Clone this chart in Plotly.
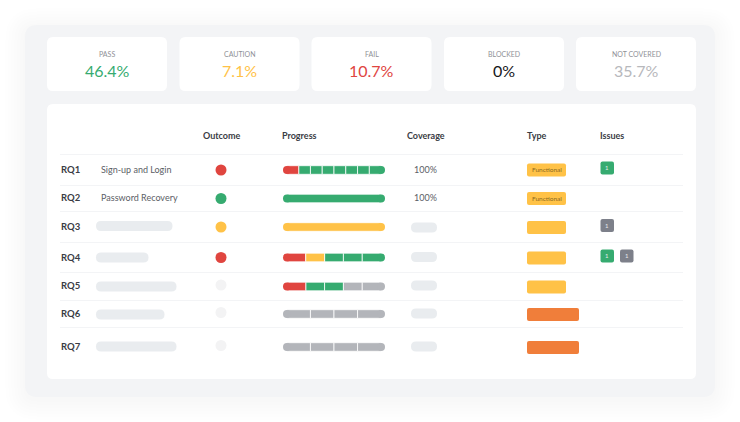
"""Rebuild the requirements coverage dashboard as a single Plotly figure."""

from __future__ import annotations

import plotly.graph_objects as go

WIDTH = 740
HEIGHT = 422

# data
STAT_LABELS = ["PASS", "CAUTION", "FAIL", "BLOCKED", "NOT COVERED"]
STAT_VALUES = [46.4, 7.1, 10.7, 0, 35.7]
STAT_COLORS = ["#36AB70", "#FFC247", "#E0453F", "#16171A", "#B7B8BC"]

HEADERS = ["Outcome", "Progress", "Coverage", "Type", "Issues"]
ROW_LABELS = ["RQ1", "RQ2", "RQ3", "RQ4", "RQ5", "RQ6", "RQ7"]
ROW_NAMES = ["Sign-up and Login", "Password Recovery", None, None, None, None, None]
OUTCOMES = ["fail", "pass", "caution", "fail", "none", "none", "none"]
COVERAGE = ["100%", "100%", None, None, None, None, None]
TYPE_LABELS = ["Functional", "Functional", None, None, None, None, None]
TYPE_KINDS = ["yellow", "yellow", "yellow", "yellow", "yellow", "orange", "orange"]
ISSUES = [["pass"], [], ["none"], ["pass", "none"], [], [], []]
PROGRESS = [
	["fail", "pass", "pass", "pass", "pass", "pass", "pass", "pass"],
	["pass"],
	["caution"],
	["fail", "caution", "pass", "pass", "pass"],
	["fail", "pass", "pass", "none", "none"],
	["none", "none", "none", "none"],
	["none", "none", "none", "none"],
]

# layout, in page pixels
CARD_LEFTS = [47, 179.5, 311.5, 444, 576]
CARD_WIDTH = 120
HEADER_LEFTS = [203, 282, 406.5, 527, 600]
ROW_TEXT_Y = [169.5, 197.5, 226.5, 257, 285.5, 313.5, 346]
DOT_Y = [170, 198.5, 227, 257.5, 285, 312.5, 345.5]
BAR_Y = [170, 198.5, 227, 257.5, 286.5, 314, 347]
NAME_PILL_Y = [None, None, 226, 257.5, 286.5, 314.5, 346.5]
NAME_PILL_RIGHT = [None, None, 172.5, 148.5, 176.5, 164.5, 176.5]
COVER_PILL_Y = [None, None, 227.5, 257, 285.5, 313.5, 346.5]
TYPE_Y = [170, 198.5, 227.5, 258, 287, 314.5, 347.5]
ISSUE_Y = [168, None, 225.5, 256, None, None, None]
RULE_Y = [154.5, 185.5, 211.5, 242.5, 272.5, 300.5, 327.5]
BAR_LEFT = 283
BAR_RIGHT = 385
BAR_HEIGHT = 8.6

STATUS_COLORS = {
	"pass": "#36AB70",
	"fail": "#E0453F",
	"caution": "#FFC247",
	"none": "#B3B5BA",
}
DOT_COLORS = {**STATUS_COLORS, "none": "#F3F3F4"}
BADGE_COLORS = {"pass": "#36AB70", "none": "#7D808A"}
TYPE_COLORS = {"yellow": "#FFC247", "orange": "#F07E3A"}
PANEL_COLOR = "#F3F4F6"
PILL_COLOR = "#E9ECEF"
FONT = "Lato, 'Open Sans', sans-serif"


def rounded_box(x0, y0, x1, y1, radius, color, opacity=1.0):
	path = (
		f"M{x0 + radius},{y0} L{x1 - radius},{y0} Q{x1},{y0} {x1},{y0 + radius} "
		f"L{x1},{y1 - radius} Q{x1},{y1} {x1 - radius},{y1} "
		f"L{x0 + radius},{y1} Q{x0},{y1} {x0},{y1 - radius} "
		f"L{x0},{y0 + radius} Q{x0},{y0} {x0 + radius},{y0} Z"
	)
	return dict(
		type="path",
		path=path,
		xref="x",
		yref="y",
		fillcolor=color,
		opacity=opacity,
		line=dict(width=0),
		layer="below",
	)


def label(x, y, text, size, color, anchor="center", weight=400):
	return dict(
		x=x,
		y=y,
		xref="x",
		yref="y",
		text=text,
		showarrow=False,
		xanchor=anchor,
		yanchor="middle",
		borderpad=0,
		borderwidth=0,
		font=dict(family=FONT, size=size, color=color, weight=weight),
	)


def build_shapes():
	shapes = []
	# soft glow around the panel
	for grow in range(2, 22, 3):
		shapes.append(
			rounded_box(25 - grow, 25 - grow + 3, 715 + grow, 397 + grow + 3, 12 + grow, "#3C3C50", 0.0035)
		)
	shapes.append(rounded_box(25, 25, 715, 397, 12, PANEL_COLOR))
	for left in CARD_LEFTS:
		shapes.append(rounded_box(left, 37, left + CARD_WIDTH, 91, 6, "#FFFFFF"))
	shapes.append(rounded_box(47, 104, 696, 379, 6, "#FFFFFF"))

	for y in RULE_Y:
		shapes.append(
			dict(
				type="line",
				x0=60,
				x1=683,
				y0=y,
				y1=y,
				xref="x",
				yref="y",
				line=dict(color=PANEL_COLOR, width=1),
				layer="below",
			)
		)

	for row in range(len(ROW_LABELS)):
		if NAME_PILL_Y[row] is not None:
			y = NAME_PILL_Y[row]
			shapes.append(rounded_box(96, y - 5, NAME_PILL_RIGHT[row], y + 5, 5, PILL_COLOR))
		if COVER_PILL_Y[row] is not None:
			y = COVER_PILL_Y[row]
			shapes.append(rounded_box(411, y - 5, 437, y + 5, 5, PILL_COLOR))
		kind = TYPE_KINDS[row]
		right = 566 if kind == "yellow" else 579
		shapes.append(rounded_box(527, TYPE_Y[row] - 6.5, right, TYPE_Y[row] + 6.5, 2, TYPE_COLORS[kind]))
		for slot, status in enumerate(ISSUES[row]):
			left = 600.5 + slot * 19.5
			y = ISSUE_Y[row]
			shapes.append(rounded_box(left, y - 6.5, left + 13.5, y + 6.5, 2, BADGE_COLORS[status]))
	return shapes


def build_annotations():
	notes = []
	for left, text, value, color in zip(CARD_LEFTS, STAT_LABELS, STAT_VALUES, STAT_COLORS):
		center = left + CARD_WIDTH / 2
		notes.append(label(center, 54, text, 7, "#8F9197"))
		notes.append(label(center, 70, f"{value:g}%", 16, color))
	for left, text in zip(HEADER_LEFTS, HEADERS):
		notes.append(label(left, 135, text, 9, "#3A3C44", anchor="left", weight=700))
	for row, text in enumerate(ROW_LABELS):
		y = ROW_TEXT_Y[row]
		notes.append(label(61, y, text, 9.5, "#3A3C44", anchor="left", weight=700))
		if ROW_NAMES[row]:
			notes.append(label(101, y, ROW_NAMES[row], 9, "#5B5E66", anchor="left"))
		if COVERAGE[row]:
			notes.append(label(425, y, COVERAGE[row], 9, "#5B5E66"))
		if TYPE_LABELS[row]:
			notes.append(label(546.5, TYPE_Y[row] - 0.5, TYPE_LABELS[row], 6.5, "#8A6A22"))
		for slot, status in enumerate(ISSUES[row]):
			notes.append(label(607.3 + slot * 19.5, ISSUE_Y[row] - 0.5, "1", 6, "#E8EAEC"))
	return notes


def add_progress_bars(fig):
	segments = {status: dict(x=[], base=[], y=[]) for status in STATUS_COLORS}
	for row, statuses in enumerate(PROGRESS):
		share = 1 / len(statuses)
		for position, status in enumerate(statuses):
			segments[status]["x"].append(share)
			segments[status]["base"].append(position * share)
			segments[status]["y"].append(BAR_Y[row])

	for status, segment in segments.items():
		fig.add_trace(
			go.Bar(
				x=segment["x"],
				base=segment["base"],
				y=segment["y"],
				orientation="h",
				width=BAR_HEIGHT,
				marker=dict(color=STATUS_COLORS[status], line=dict(color="#FFFFFF", width=0.8)),
				xaxis="x2",
				yaxis="y",
				showlegend=False,
				hoverinfo="skip",
			)
		)

	# round ends of each bar
	fig.add_trace(
		go.Scatter(
			x=[0] * len(PROGRESS) + [1] * len(PROGRESS),
			y=BAR_Y + BAR_Y,
			mode="markers",
			cliponaxis=False,
			marker=dict(
				size=BAR_HEIGHT - 0.8,
				color=[STATUS_COLORS[s[0]] for s in PROGRESS] + [STATUS_COLORS[s[-1]] for s in PROGRESS],
				line=dict(width=0),
			),
			xaxis="x2",
			yaxis="y",
			showlegend=False,
			hoverinfo="skip",
		)
	)


def build_figure():
	fig = go.Figure()
	add_progress_bars(fig)
	fig.add_trace(
		go.Scatter(
			x=[221] * len(OUTCOMES),
			y=DOT_Y,
			mode="markers",
			marker=dict(size=11, color=[DOT_COLORS[o] for o in OUTCOMES], line=dict(width=0)),
			showlegend=False,
			hoverinfo="skip",
		)
	)

	inset = (BAR_HEIGHT - 0.8) / 2
	fig.update_layout(
		width=WIDTH,
		height=HEIGHT,
		margin=dict(l=0, r=0, t=0, b=0),
		paper_bgcolor="#FFFFFF",
		plot_bgcolor="rgba(0,0,0,0)",
		barmode="overlay",
		showlegend=False,
		hovermode=False,
		shapes=build_shapes(),
		annotations=build_annotations(),
		xaxis=dict(range=[0, WIDTH], visible=False, fixedrange=True),
		yaxis=dict(range=[HEIGHT, 0], visible=False, fixedrange=True),
		xaxis2=dict(
			domain=[(BAR_LEFT + inset) / WIDTH, (BAR_RIGHT - inset) / WIDTH],
			range=[0, 1],
			visible=False,
			fixedrange=True,
			anchor="y",
		),
	)
	return fig


def main() -> None:
	fig = build_figure()
	fig.write_html(
		"out.html",
		config={"displayModeBar": False},
		post_script="document.body.style.margin='0';",
	)


if __name__ == "__main__":
	main()
